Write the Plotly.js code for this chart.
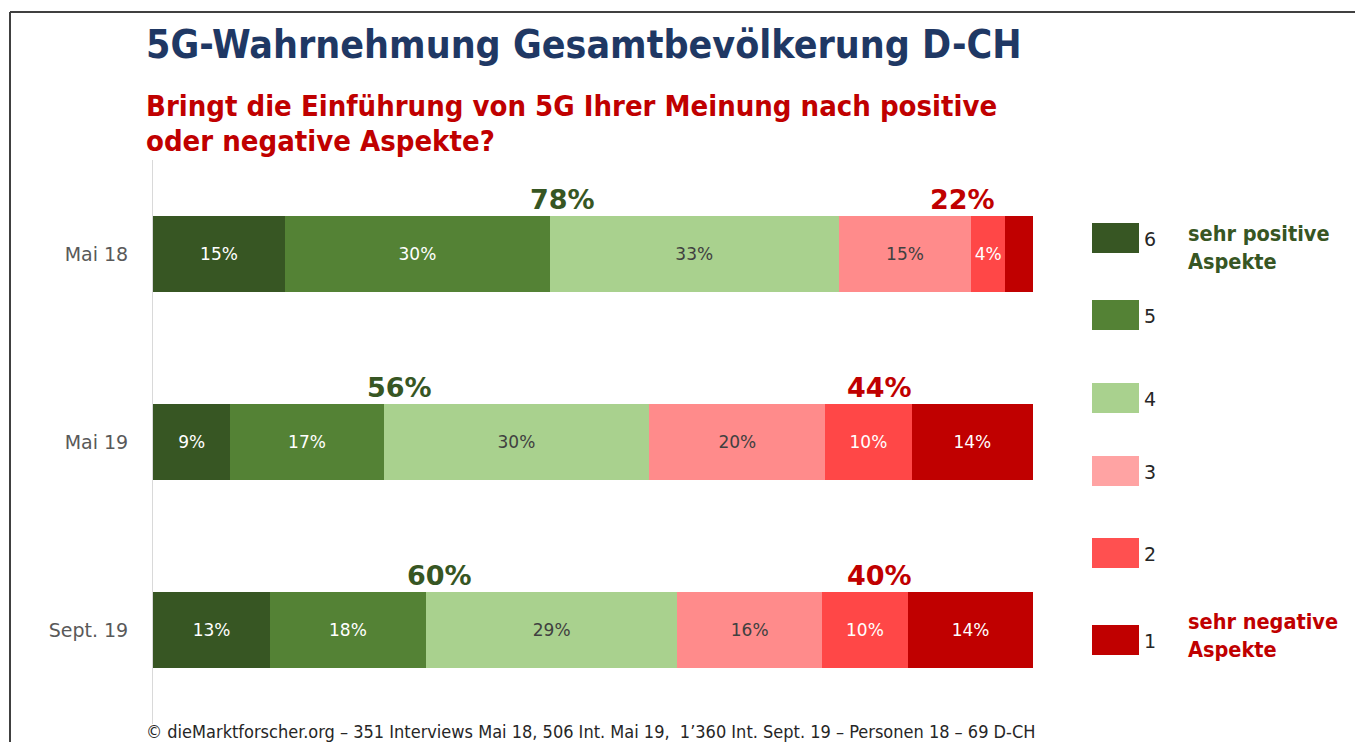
<!DOCTYPE html>
<html>
<head>
<meta charset="utf-8">
<script src="https://cdn.plot.ly/plotly-3.0.1.min.js"></script>
<style>html,body{margin:0;padding:0;background:#fff;}#chart{width:1355px;height:742px;}</style>
</head>
<body>
<div id="chart"></div>
<script>
// ---- data ----
const categories = ['Mai 18', 'Mai 19', 'Sept. 19'];
const levels = ['6', '5', '4', '3', '2', '1'];
const s6 = [15.0, 8.8, 13.3];
const s5 = [30.1, 17.4, 17.7];
const s4 = [32.8, 30.2, 28.6];
const s3 = [15.1, 20.0, 16.4];
const s2 = [3.8, 9.8, 9.8];
const s1 = [3.2, 13.8, 14.2];
const seriesValues = [s6, s5, s4, s3, s2, s1];
const barColors = ['#375623', '#548235', '#A9D18E', '#FF8B8B', '#FF4747', '#C00000'];
const legendColors = ['#375623', '#548235', '#A9D18E', '#FFA3A3', '#FF5050', '#C00000'];
const textColors = ['#ffffff', '#ffffff', '#404040', '#404040', '#ffffff', '#ffffff'];
const titleText = '5G-Wahrnehmung Gesamtbevölkerung D-CH';
const subtitleLines = ['Bringt die Einführung von 5G Ihrer Meinung nach positive', 'oder negative Aspekte?'];
const footerText = '© dieMarktforscher.org – 351 Interviews Mai 18, 506 Int. Mai 19,  1’360 Int. Sept. 19 – Personen 18 – 69 D-CH';
const posLabel = ['sehr positive', 'Aspekte'];
const negLabel = ['sehr negative', 'Aspekte'];

// ---- geometry helpers (pixel -> paper) ----
const W = 1355, H = 742;
const M = {l: 153, r: W - 1033, t: 160, b: H - 724};
const pw = W - M.l - M.r, ph = H - M.t - M.b;
const px = x => (x - M.l) / pw;
const py = y => (H - M.b - y) / ph;

const FONT = '"DejaVu Sans Condensed", "DejaVu Sans", Verdana, sans-serif';
const FONT2 = '"DejaVu Sans", Verdana, sans-serif';

const traces = seriesValues.map((vals, i) => ({
  type: 'bar',
  orientation: 'h',
  name: levels[i],
  y: categories,
  x: vals,
  marker: {color: barColors[i], line: {width: 0}},
  text: vals.map(v => v >= 3.5 ? Math.round(v) + '%' : ''),
  texttemplate: '%{text}',
  textposition: 'inside',
  insidetextanchor: 'middle',
  textangle: 0,
  constraintext: 'none',
  insidetextfont: {family: FONT2, size: 17, color: textColors[i]},
  hoverinfo: 'skip',
  showlegend: false
}));

const annotations = [];
// title
annotations.push({xref: 'paper', yref: 'paper', x: px(144), y: py(44), xanchor: 'left', yanchor: 'middle',
  text: '<b>' + titleText + '</b>', showarrow: false, font: {family: FONT, size: 39, color: '#1F3864'}});
subtitleLines.forEach((t, k) => annotations.push({xref: 'paper', yref: 'paper', x: px(144), y: py(106 + 35 * k),
  xanchor: 'left', yanchor: 'middle', text: '<b>' + t + '</b>', showarrow: false,
  font: {family: FONT, size: 29, color: '#C00000'}}));
// totals
const totalPosX = [46.5, 28, 32.5];
const totalNegX = [92, 82.5, 82.5];
categories.forEach((c, j) => {
  const pos = s6[j] + s5[j] + s4[j];
  const neg = s3[j] + s2[j] + s1[j];
  annotations.push({x: totalPosX[j], y: c, xref: 'x', yref: 'y', yshift: 55, showarrow: false,
    text: '<b>' + Math.round(pos) + '%</b>', font: {family: FONT2, size: 27, color: '#375623'}});
  annotations.push({x: totalNegX[j], y: c, xref: 'x', yref: 'y', yshift: 55, showarrow: false,
    text: '<b>' + Math.round(neg) + '%</b>', font: {family: FONT2, size: 27, color: '#C00000'}});
});
// footer
annotations.push({xref: 'paper', yref: 'paper', x: px(144), y: py(731), xanchor: 'left', yanchor: 'middle',
  text: footerText, showarrow: false, font: {family: FONT, size: 18, color: '#262626'}});

// legend (custom)
const legTop = [223, 300, 383, 456, 538, 625];
const shapes = [];
levels.forEach((lv, i) => {
  shapes.push({type: 'rect', xref: 'paper', yref: 'paper', x0: px(1092), x1: px(1139),
    y0: py(legTop[i] + 30), y1: py(legTop[i]), fillcolor: legendColors[i], line: {width: 0}});
  annotations.push({xref: 'paper', yref: 'paper', x: px(1142), y: py(legTop[i] + 16), xanchor: 'left', yanchor: 'middle',
    text: lv, showarrow: false, font: {family: FONT2, size: 19, color: '#262626'}});
});
posLabel.forEach((t, k) => annotations.push({xref: 'paper', yref: 'paper', x: px(1186), y: py(233 + 28 * k),
  xanchor: 'left', yanchor: 'middle', text: '<b>' + t + '</b>', showarrow: false, font: {family: FONT, size: 21.5, color: '#375623'}}));
negLabel.forEach((t, k) => annotations.push({xref: 'paper', yref: 'paper', x: px(1186), y: py(621 + 28 * k),
  xanchor: 'left', yanchor: 'middle', text: '<b>' + t + '</b>', showarrow: false, font: {family: FONT, size: 21.5, color: '#C00000'}}));

// frame
shapes.push({type: 'line', xref: 'paper', yref: 'paper', x0: px(10), x1: px(1360), y0: py(12), y1: py(12), line: {color: '#404040', width: 2}});
shapes.push({type: 'line', xref: 'paper', yref: 'paper', x0: px(10), x1: px(10), y0: py(12), y1: py(750), line: {color: '#404040', width: 2}});

const layout = {
  width: W, height: H,
  margin: M,
  paper_bgcolor: '#ffffff', plot_bgcolor: '#ffffff',
  barmode: 'stack',
  bargap: 0.595,
  showlegend: false,
  uniformtext: {mode: 'show', minsize: 17},
  xaxis: {range: [0, 100], visible: false, fixedrange: true},
  yaxis: {type: 'category', categoryorder: 'array', categoryarray: categories, range: [2.5, -0.5],
    showline: true, linecolor: '#D9D9D9', linewidth: 1, showgrid: false, zeroline: false, ticks: '',
    ticklabelstandoff: 20, tickfont: {family: FONT2, size: 19, color: '#595959'}, fixedrange: true},
  annotations: annotations,
  shapes: shapes
};

Plotly.newPlot('chart', traces, layout, {displayModeBar: false, staticPlot: true});
</script>
</body>
</html>
